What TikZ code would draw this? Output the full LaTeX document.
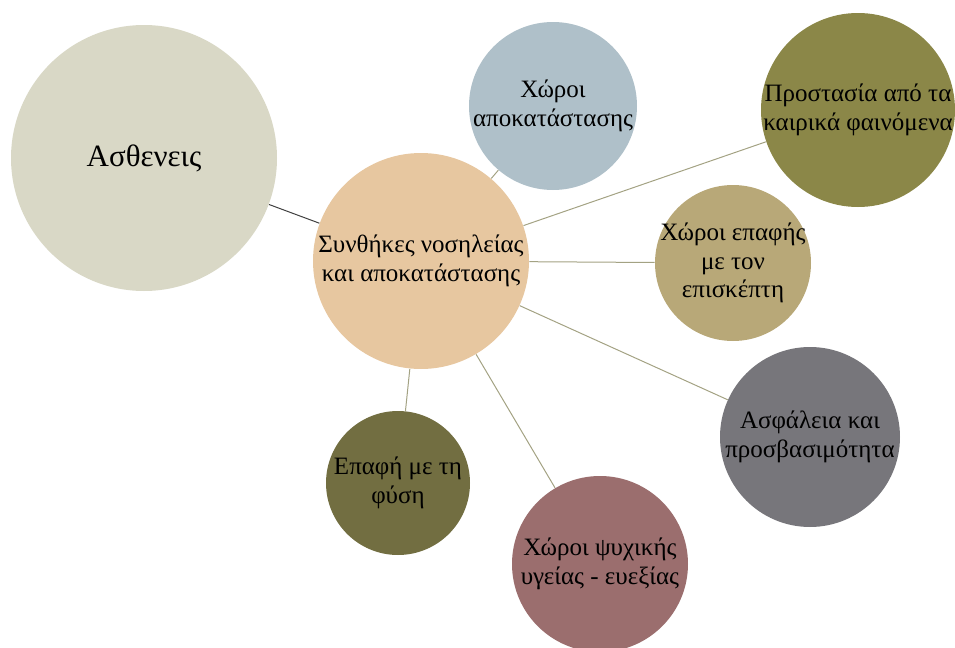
\documentclass[tikz,border=0pt]{standalone}
\usepackage{fontspec}
\setmainfont{Liberation Serif}
\usepackage{xcolor}
\usepackage{tikz}
\usetikzlibrary{positioning}

\definecolor{cpatient}{HTML}{D9D8C6}
\definecolor{ccore}{HTML}{E7C7A0}
\definecolor{crehab}{HTML}{AFC0C9}
\definecolor{cweather}{HTML}{8B8748}
\definecolor{cvisit}{HTML}{B8A878}
\definecolor{csafe}{HTML}{77767B}
\definecolor{cmind}{HTML}{9B6E6E}
\definecolor{cnature}{HTML}{726E41}
\definecolor{clink}{HTML}{A3A283}

\tikzstyle{bubble} = [circle, inner sep=-5pt, align=center, font=\fontsize{12.5}{14.2}\selectfont]
\tikzstyle{link} = [draw=clink, line width=0.5pt]

\begin{document}
\begin{tikzpicture}[x=0.5pt, y=-0.5pt]
\useasboundingbox (0,0) rectangle (955,648);

\node (patient) [bubble, fill=cpatient, minimum size=133pt, font=\fontsize{15.5}{18}\selectfont] at (144,158) {Ασθενεις};
\node (core) [bubble, fill=ccore, minimum size=108pt] at (421,261) {Συνθήκες νοσηλείας\\και αποκατάστασης};
\node (rehab) [bubble, fill=crehab, minimum size=84pt] at (553,106) {Χώροι\\αποκατάστασης};
\node (weather) [bubble, fill=cweather, minimum size=97pt] at (858,110) {Προστασία από τα\\καιρικά φαινόμενα};
\node (visit) [bubble, fill=cvisit, minimum size=78pt] at (733,263) {Χώροι επαφής\\με τον\\επισκέπτη};
\node (safe) [bubble, fill=csafe, minimum size=90pt] at (810,437) {Ασφάλεια και\\προσβασιμότητα};
\node (mind) [bubble, fill=cmind, minimum size=88pt] at (600,564) {Χώροι ψυχικής\\υγείας - ευεξίας};
\node (nature) [bubble, fill=cnature, minimum size=72pt] at (398,483) {Επαφή με τη\\φύση};

\draw [draw=black!75, line width=0.5pt] (core) -- (patient);
\draw [link] (core) -- (rehab);
\draw [link] (core) -- (weather);
\draw [link] (core) -- (visit);
\draw [link] (core) -- (safe);
\draw [link] (core) -- (mind);
\draw [link] (core) -- (nature);

\end{tikzpicture}
\end{document}
